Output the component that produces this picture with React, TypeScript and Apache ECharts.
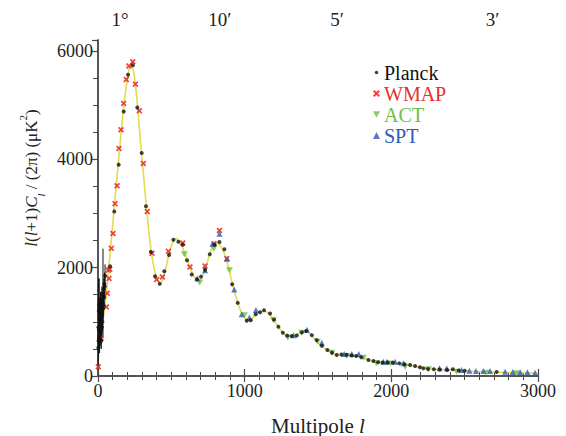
import React, { useEffect, useRef } from 'react';
import * as echarts from 'echarts';

// ---------- data (multipole l, D_l in μK²) ----------
const theory: [number, number][] = [
  [2, 1020], [5, 900], [10, 800], [20, 860], [30, 980], [40, 1150], [50, 1350], [60, 1600],
  [70, 1880], [80, 2180], [90, 2480], [100, 2780], [120, 3380], [140, 3980], [160, 4560],
  [180, 5080], [200, 5480], [215, 5680], [230, 5730], [245, 5580], [260, 5250], [275, 4800],
  [290, 4300], [310, 3720], [330, 3120], [350, 2580], [370, 2170], [390, 1900], [410, 1750],
  [425, 1715], [440, 1770], [460, 1960], [480, 2200], [500, 2400], [520, 2510], [535, 2535],
  [550, 2500], [570, 2410], [590, 2280], [610, 2130], [630, 1980], [650, 1860], [670, 1785],
  [690, 1765], [710, 1830], [730, 1970], [750, 2140], [770, 2310], [790, 2420], [810, 2460],
  [830, 2420], [850, 2330], [870, 2190], [890, 2000], [910, 1770], [930, 1560], [950, 1380],
  [970, 1220], [990, 1110], [1010, 1040], [1030, 1025], [1050, 1060], [1080, 1150], [1110, 1195],
  [1140, 1195], [1170, 1140], [1200, 1035], [1230, 905], [1260, 805], [1290, 745], [1320, 735],
  [1350, 760], [1380, 800], [1410, 825], [1440, 790], [1470, 705], [1500, 620], [1530, 545],
  [1560, 480], [1590, 432], [1620, 402], [1660, 392], [1700, 390], [1740, 382], [1780, 360],
  [1820, 322], [1860, 283], [1900, 255], [1950, 246], [2000, 244], [2050, 234], [2100, 212],
  [2150, 186], [2200, 160], [2250, 140], [2300, 128], [2350, 121], [2400, 114], [2450, 104],
  [2500, 95], [2600, 82], [2700, 72], [2800, 64], [2900, 57], [3000, 50],
];

// Planck unbinned low-l: [l, D, errLow, errHigh]
const planckLowL: [number, number, number, number][] = [
  [2, 520, 180, 1400], [3, 900, 450, 1700], [4, 650, 350, 1250], [5, 1200, 700, 1800],
  [6, 850, 500, 1300], [7, 700, 450, 1050], [8, 1300, 900, 1800], [9, 750, 500, 1100],
  [10, 1000, 700, 1350], [11, 600, 420, 850], [12, 1100, 800, 1450], [13, 900, 650, 1200],
  [14, 700, 520, 950], [15, 1050, 800, 1350], [16, 800, 600, 1050], [17, 1250, 950, 1550],
  [18, 950, 720, 1200], [19, 1150, 900, 1420], [20, 850, 650, 1070], [21, 1300, 1050, 1560],
  [22, 1000, 800, 1220], [23, 650, 500, 830], [24, 1200, 980, 1430], [25, 1050, 850, 1260],
  [26, 1400, 1160, 1650], [27, 900, 720, 1100], [28, 1100, 900, 1310], [29, 1250, 1040, 1470],
  [30, 1000, 820, 1190], [32, 1350, 1150, 1560], [34, 1250, 700, 2350], [36, 1500, 1290, 1710],
  [38, 1300, 1110, 1500], [40, 1600, 1390, 1810], [42, 1450, 1260, 1650], [44, 1700, 1490, 1910],
  [46, 1650, 1450, 1860], [48, 1850, 1640, 2060],
];

const planck: [number, number][] = [
  [82, 2024], [111, 3036], [141, 3900], [175, 4880], [205, 5560], [237, 5735], [268, 4955],
  [298, 4115], [327, 3134], [361, 2288], [389, 1840], [421, 1700], [452, 1932], [484, 2232],
  [514, 2515], [548, 2478], [578, 2423], [607, 2134], [639, 1871], [675, 1785], [702, 1834],
  [730, 1961], [762, 2245], [795, 2420], [828, 2471], [862, 2337], [915, 1693], [953, 1349],
  [1014, 1018], [1041, 1030], [1075, 1140], [1105, 1178], [1132, 1214], [1173, 1153],
  [1200, 1040], [1230, 907], [1260, 797], [1290, 745], [1321, 736], [1355, 749], [1390, 805],
  [1420, 830], [1458, 754], [1491, 662], [1526, 560], [1564, 478], [1596, 430], [1628, 386],
  [1660, 395], [1695, 392], [1730, 380], [1760, 368], [1795, 345], [1844, 294], [1878, 276],
  [1910, 252], [1940, 250], [1975, 248], [2010, 243], [2055, 233], [2090, 215], [2128, 202],
  [2162, 184], [2195, 160], [2219, 141], [2250, 130], [2290, 125], [2330, 118], [2380, 110],
  [2419, 123], [2460, 100], [2500, 95], [2718, 75],
];

const wmap: [number, number][] = [
  [2, 170], [20, 700], [57, 1275], [63, 1527], [70, 1950], [75, 1800], [80, 1970], [91, 2355],
  [102, 2630], [116, 3180], [130, 3510], [143, 4200], [157, 4545], [175, 5030], [193, 5470],
  [211, 5720], [237, 5800], [255, 5385], [282, 4895], [309, 3920], [336, 3036], [368, 2263],
  [400, 1779], [439, 1827], [480, 2300], [578, 2453], [627, 2011], [730, 2030], [791, 2441],
  [828, 2686], [878, 2165],
];

const act: [number, number][] = [
  [589, 2245], [693, 1724], [789, 2350], [896, 1950], [998, 1122], [1196, 1030], [1294, 712],
  [1389, 797], [1496, 631], [1594, 429], [1696, 368], [1810, 337], [1898, 233], [1995, 230],
  [2094, 171], [2253, 123], [2445, 80], [2646, 61], [2851, 50],
];

const spt: [number, number][] = [
  [677, 1797], [730, 1950], [781, 2441], [828, 2625], [880, 2165], [929, 1595], [980, 1141],
  [1032, 1080], [1077, 1220], [1332, 754], [1425, 852], [1526, 613], [1678, 405], [1730, 405],
  [1778, 405], [1946, 263], [1969, 263], [2026, 263], [2082, 233], [2328, 141], [2378, 141],
  [2479, 110], [2532, 98], [2577, 92], [2627, 92], [2673, 90], [2776, 80], [2828, 74],
  [2878, 74], [2928, 68], [2980, 62],
];

const topLabelValues = [150, 830, 1630, 2690];
const topLabelTexts = ['1°', '10′', '5′', '3′'];
const seriesColors = ['#111111', '#e8302c', '#6cbf44', '#2c5cb4'];

const FONT = 'Liberation Serif, DejaVu Serif, serif';
const AXIS_COLOR = '#4a4a4a';
const TEXT_COLOR = '#222222';
const CROSS = 'path://M2,0L5,3L8,0L10,2L7,5L10,8L8,10L5,7L2,10L0,8L3,5L0,2Z';
const DOWN_TRI = 'path://M0,0L10,0L5,9Z';
const SMALL_DOT = 'path://M0,0M10,10M2.5,5A2.5,2.5,0,1,0,7.5,5A2.5,2.5,0,1,0,2.5,5Z';

export default function App() {
  const ref = useRef<HTMLDivElement>(null);

  useEffect(() => {
    if (!ref.current) return;
    const chart = echarts.init(ref.current, undefined, { renderer: 'svg' });

    const axisLine = { show: true, lineStyle: { color: AXIS_COLOR, width: 1.5 } };
    const plain = (v: number) => String(v);

    const option: any = {
      animation: false,
      backgroundColor: '#ffffff',
      textStyle: { fontFamily: FONT },
      grid: { left: 98, right: 28, top: 40, bottom: 60, containLabel: false, outerBoundsMode: 'none' },
      legend: {
        orient: 'vertical',
        left: 368,
        top: 57,
        itemWidth: 7,
        itemHeight: 7,
        itemGap: 0,
        textStyle: { fontFamily: FONT, fontSize: 20, lineHeight: 21, padding: [0, 0, 0, -1] },
        data: [
          { name: 'Planck', icon: SMALL_DOT, textStyle: { color: seriesColors[0] } },
          { name: 'WMAP', textStyle: { color: seriesColors[1] } },
          { name: 'ACT', textStyle: { color: seriesColors[2] } },
          { name: 'SPT', textStyle: { color: seriesColors[3] } },
        ],
      },
      xAxis: [
        {
          type: 'value',
          position: 'bottom',
          min: 0,
          max: 3000,
          interval: 1000,
          axisLine,
          axisTick: { show: true, length: 6, lineStyle: { color: AXIS_COLOR, width: 1.2 } },
          minorTick: { show: true, splitNumber: 10, length: 4, lineStyle: { color: AXIS_COLOR, width: 1 } },
          splitLine: { show: false },
          axisLabel: { fontFamily: FONT, fontSize: 18, color: TEXT_COLOR, margin: 6, formatter: plain },
          name: '{n|Multipole }{i|l}',
          nameLocation: 'middle',
          nameGap: 39,
          nameTextStyle: {
            fontFamily: FONT,
            fontSize: 21,
            color: TEXT_COLOR,
            rich: {
              n: { fontFamily: FONT, fontSize: 21, color: TEXT_COLOR },
              i: { fontFamily: FONT, fontSize: 21, color: TEXT_COLOR, fontStyle: 'italic' },
            },
          },
        },
        {
          type: 'value',
          position: 'top',
          min: 0,
          max: 3000,
          interval: 1000,
          axisLine,
          axisTick: { show: true, length: 7, lineStyle: { color: AXIS_COLOR, width: 1.2 } },
          minorTick: { show: true, splitNumber: 10, length: 4, lineStyle: { color: AXIS_COLOR, width: 1 } },
          splitLine: { show: false },
          axisLabel: { show: false },
        },
        {
          type: 'value',
          position: 'top',
          min: 0,
          max: 3000,
          axisLine: { show: false },
          axisTick: { show: false },
          splitLine: { show: false },
          axisLabel: {
            show: true,
            customValues: topLabelValues,
            fontFamily: FONT,
            fontSize: 19,
            color: TEXT_COLOR,
            margin: 11,
            formatter: (v: number) => {
              const i = topLabelValues.indexOf(v);
              return i >= 0 ? topLabelTexts[i] : '';
            },
          },
        },
      ],
      yAxis: [
        {
          type: 'value',
          position: 'left',
          min: 0,
          max: 6200,
          interval: 2000,
          axisLine,
          axisTick: { show: true, length: 6, lineStyle: { color: AXIS_COLOR, width: 1.2 } },
          minorTick: { show: true, splitNumber: 4, length: 5, lineStyle: { color: AXIS_COLOR, width: 1 } },
          splitLine: { show: false },
          axisLabel: { fontFamily: FONT, fontSize: 18, color: TEXT_COLOR, margin: 5, formatter: plain },
          name: '{i|l}({i|l}+1){i|C}{sub|l}{n| / (2π) (μK}{sup|2}{n|)}',
          nameLocation: 'middle',
          nameGap: 52,
          nameRotate: 90,
          nameTextStyle: {
            fontFamily: FONT,
            fontSize: 17,
            color: TEXT_COLOR,
            padding: [0, 0, 0, 60],
            rich: {
              n: { fontFamily: FONT, fontSize: 17, color: TEXT_COLOR, lineHeight: 22 },
              i: { fontFamily: FONT, fontSize: 17, color: TEXT_COLOR, fontStyle: 'italic', lineHeight: 22 },
              sub: { fontFamily: FONT, fontSize: 11, color: TEXT_COLOR, fontStyle: 'italic', verticalAlign: 'bottom', lineHeight: 22, padding: [0, 0, -4, 0] },
              sup: { fontFamily: FONT, fontSize: 11, color: TEXT_COLOR, verticalAlign: 'top', lineHeight: 22, padding: [-3, 0, 0, 0] },
            },
          },
        },
        {
          type: 'value',
          position: 'right',
          min: 0,
          max: 6200,
          axisLine,
          axisTick: { show: false },
          axisLabel: { show: false },
          splitLine: { show: false },
        },
      ],
      series: [
        {
          name: 'theory',
          type: 'line',
          data: theory,
          smooth: 0.3,
          showSymbol: false,
          symbol: 'none',
          lineStyle: { color: '#e2dc4e', width: 1.6 },
          z: 1,
          silent: true,
        },
        {
          name: 'PlanckErr',
          type: 'custom',
          data: planckLowL.map((d) => [d[0], d[2], d[3]]),
          renderItem: (params: any, api: any) => {
            const l = api.value(0);
            const p1 = api.coord([l, api.value(1)]);
            const p2 = api.coord([l, api.value(2)]);
            return {
              type: 'line',
              shape: { x1: p1[0], y1: p1[1], x2: p2[0], y2: p2[1] },
              style: { stroke: '#111', lineWidth: 1 },
            };
          },
          z: 2,
          silent: true,
        },
        {
          name: 'WMAP',
          type: 'scatter',
          data: wmap,
          symbol: CROSS,
          symbolSize: 6,
          itemStyle: { color: seriesColors[1], opacity: 0.9 },
          z: 3,
        },
        {
          name: 'ACT',
          type: 'scatter',
          data: act,
          symbol: DOWN_TRI,
          symbolSize: [7, 6],
          itemStyle: { color: seriesColors[2] },
          z: 4,
        },
        {
          name: 'SPT',
          type: 'scatter',
          data: spt,
          symbol: 'triangle',
          symbolSize: [6, 6],
          itemStyle: { color: seriesColors[3] },
          z: 5,
        },
        {
          name: 'Planck',
          type: 'scatter',
          data: [...planckLowL.map((d) => [d[0], d[1]]), ...planck],
          symbol: 'circle',
          symbolSize: 4,
          itemStyle: { color: seriesColors[0] },
          z: 6,
        },
      ],
    };

    chart.setOption(option);
    return () => chart.dispose();
  }, []);

  return (
    <div
      ref={ref}
      style={{ position: 'fixed', left: 0, top: 0, width: 566, height: 436, background: '#fff' }}
    />
  );
}
